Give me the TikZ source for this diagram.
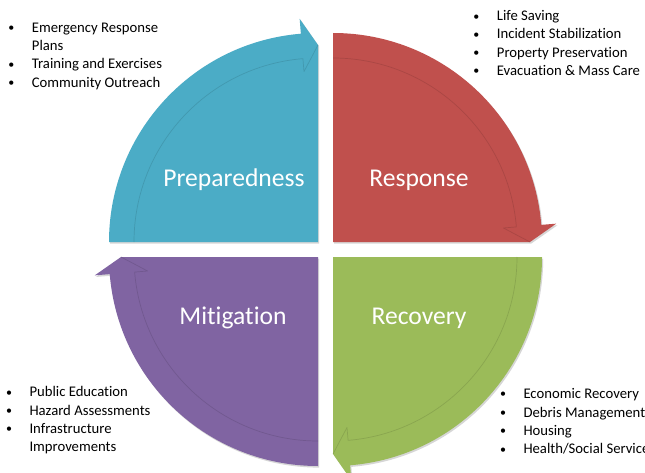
\documentclass[tikz,border=0pt]{standalone}
\usepackage{fontspec}
\setmainfont{Carlito}[Ligatures={NoCommon,NoContextual}]
\definecolor{cteal}{HTML}{4BACC6}
\definecolor{cred}{HTML}{C0504D}
\definecolor{cgreen}{HTML}{9BBB59}
\definecolor{cpurple}{HTML}{8064A2}
\newcommand\qpath[3]{%
  (#1,#2) -- ([shift={(#1,#2)}]#3:209)
  arc[start angle=#3, end angle=\qb, radius=209]
  -- ([shift={(#1,#2)}]\qb:224)
  -- ([shift={(#1,#2)}]\qe:197) -- cycle}
\newcommand\qshape[4]{%
  \pgfmathsetmacro\qe{#3-90}%
  \pgfmathsetmacro\qb{#3-85.3}%
  \fill[black!16, shift={(1.2,-1.6)}] \qpath{#1}{#2}{#3};
  \fill[#4] \qpath{#1}{#2}{#3};
  \draw[#4!75!black, opacity=.45, line width=.7pt, line join=round]
    ([shift={(#1,#2)}]#3:184) arc[start angle=#3, end angle=\qb, radius=184]
    -- ([shift={(#1,#2)}]\qb:171) -- ([shift={(#1,#2)}]\qe:197);
}
\newcommand\bul{\llap{\raisebox{0.6pt}{\fontsize{12}{12}\selectfont\textbullet}\hspace{17.5pt}}}
\begin{document}
\begin{tikzpicture}[x=1pt, y=1pt,
  item/.style={anchor=base west, inner sep=0pt, text=black,
    font=\fontsize{14.7}{18}\selectfont},
  lbl/.style={text=white, inner sep=0pt, font=\fontsize{25.6}{30}\selectfont}]
\clip (0,0) rectangle (645,472);
\fill[white] (0,0) rectangle (645,472);

\qshape{318}{230}{180}{cteal}
\qshape{333}{230}{90}{cred}
\qshape{333}{215}{0}{cgreen}
\qshape{318}{215}{270}{cpurple}

\node[lbl] (prep) at (234,292) {Preparedness};
\node[lbl] (resp) at (419,292) {Response};
\node[lbl] (miti) at (233,154) {Mitigation};
\node[lbl] (reco) at (419,154) {Recovery};

% Preparedness list
\node[item] (p1) at (31.7,439.7) {\bul Emergency Response};
\node[item] (p2) at (31.7,421.3) {Plans};
\node[item] (p3) at (31.7,403.0) {\bul Training and Exercises};
\node[item] (p4) at (31.7,384.7) {\bul Community Outreach};

% Response list
\node[item] (r1) at (496.7,451.3) {\bul Life Saving};
\node[item] (r2) at (496.7,433.0) {\bul Incident Stabilization};
\node[item] (r3) at (496.7,414.7) {\bul Property Preservation};
\node[item] (r4) at (496.7,396.4) {\bul Evacuation \& Mass Care};

% Mitigation list
\node[item] (m1) at (29.3,75.3) {\bul Public Education};
\node[item] (m2) at (29.3,57.0) {\bul Hazard Assessments};
\node[item] (m3) at (29.3,38.7) {\bul Infrastructure};
\node[item] (m4) at (29.3,20.4) {Improvements};

% Recovery list
\node[item] (c1) at (523.3,73.5) {\bul Economic Recovery};
\node[item] (c2) at (523.3,55.0) {\bul Debris Management};
\node[item] (c3) at (523.3,36.7) {\bul Housing};
\node[item] (c4) at (523.3,18.4) {\bul Health/Social Services};
\end{tikzpicture}
\end{document}
